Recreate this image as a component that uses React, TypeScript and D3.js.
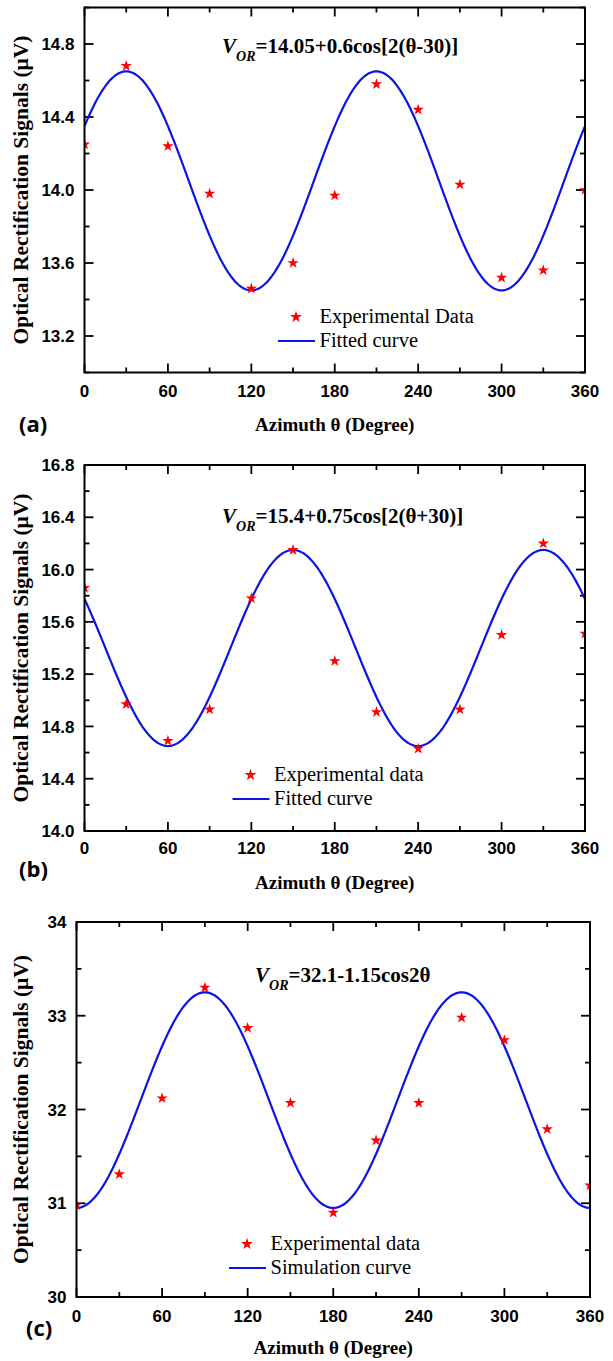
import { useRef, useEffect } from "react";
import * as d3 from "d3";

// azimuth angles where the signal was measured (degrees)
const azimuth = [0, 30, 60, 90, 120, 150, 180, 210, 240, 270, 300, 330, 360];

// measured optical rectification signals (µV), one array per panel
const signalA = [14.25, 14.68, 14.24, 13.98, 13.46, 13.6, 13.97, 14.58, 14.44, 14.03, 13.52, 13.56, 14.0];
const signalB = [15.86, 14.97, 14.69, 14.93, 15.78, 16.15, 15.3, 14.91, 14.63, 14.93, 15.5, 16.2, 15.51];
const signalC = [30.98, 31.31, 32.12, 33.3, 32.87, 32.07, 30.9, 31.67, 32.07, 32.98, 32.74, 31.79, 31.19];

// tick labels
const xTicks = [0, 60, 120, 180, 240, 300, 360];
const yTicksA = [13.2, 13.6, 14.0, 14.4, 14.8];
const yTicksB = [14.0, 14.4, 14.8, 15.2, 15.6, 16.0, 16.4, 16.8];
const yTicksC = [30, 31, 32, 33, 34];

// fit parameters printed on each panel: V = offset + amp * cos[2(θ + shift)]
const fitOffset = [14.05, 15.4, 32.1];
const fitAmp = [0.6, 0.75, -1.15];
const fitShift = [-30, 30, 0];

const formulaText = ["=14.05+0.6cos[2(θ-30)]", "=15.4+0.75cos[2(θ+30)]", "=32.1-1.15cos2θ"];
const legendPoints = ["Experimental Data", "Experimental data", "Experimental data"];
const legendCurve = ["Fitted curve", "Fitted curve", "Simulation curve"];
const panelTags = ["(a)", "(b)", "(c)"];

const SERIF = "'Liberation Serif', 'Times New Roman', serif";
const SANS = "'Liberation Sans', Arial, sans-serif";

const panels = [
  {
    values: signalA, yTicks: yTicksA, yDomain: [13.0, 15.0], yMinor: 0.2, digits: 1,
    box: { left: 84.5, right: 585, top: 7.5, bottom: 372.5 },
    formulaX: 222, formulaY: 53, legendX: 296, legendY: 317,
    xLabelY: 397, titleY: 431, tagX: 19, tagY: 432,
  },
  {
    values: signalB, yTicks: yTicksB, yDomain: [14.0, 16.8], yMinor: 0.2, digits: 1,
    box: { left: 84.5, right: 585, top: 465, bottom: 831 },
    formulaX: 222, formulaY: 523, legendX: 250.5, legendY: 775,
    xLabelY: 854, titleY: 889, tagX: 19, tagY: 877,
  },
  {
    values: signalC, yTicks: yTicksC, yDomain: [30, 34], yMinor: 0.5, digits: 0,
    box: { left: 76.5, right: 590, top: 922, bottom: 1297 },
    formulaX: 255, formulaY: 982, legendX: 247, legendY: 1244,
    xLabelY: 1322, titleY: 1354, tagX: 26, tagY: 1336,
  },
];

export default function App() {
  const svgRef = useRef<SVGSVGElement>(null);

  useEffect(() => {
    const svg = d3.select(svgRef.current);
    svg.selectAll("*").remove();

    const star = d3.symbol().type(d3.symbolStar).size(40);
    const starLegend = d3.symbol().type(d3.symbolStar).size(44);

    panels.forEach((p, i) => {
      const { left, right, top, bottom } = p.box;
      const x = d3.scaleLinear().domain([0, 360]).range([left, right]);
      const y = d3.scaleLinear().domain(p.yDomain).range([bottom, top]);
      const g = svg.append("g");

      const clipId = `clip-${i}`;
      g.append("clipPath")
        .attr("id", clipId)
        .append("rect")
        .attr("x", left)
        .attr("y", top)
        .attr("width", right - left)
        .attr("height", bottom - top);

      // minor + major ticks, pointing inward on all four sides
      const xMinor = d3.range(0, 361, 30);
      const yMinor = d3.range(p.yDomain[0], p.yDomain[1] + 1e-9, p.yMinor);
      const isMajorX = (v: number) => v % 60 === 0;
      const isMajorY = (v: number) => p.yTicks.some((t) => Math.abs(t - v) < 1e-6);

      const ticks = g.append("g").attr("stroke", "#000").attr("stroke-width", 1.8);
      xMinor.forEach((v) => {
        const len = isMajorX(v) ? 9 : 5;
        ticks.append("line").attr("x1", x(v)).attr("x2", x(v)).attr("y1", bottom).attr("y2", bottom - len);
        ticks.append("line").attr("x1", x(v)).attr("x2", x(v)).attr("y1", top).attr("y2", top + len);
      });
      yMinor.forEach((v) => {
        const len = isMajorY(v) ? 9 : 5;
        ticks.append("line").attr("x1", left).attr("x2", left + len).attr("y1", y(v)).attr("y2", y(v));
        ticks.append("line").attr("x1", right).attr("x2", right - len).attr("y1", y(v)).attr("y2", y(v));
      });

      // fitted / simulated curve
      const curve = d3.range(0, 360.5, 1).map((t) => [
        t,
        fitOffset[i] + fitAmp[i] * Math.cos((2 * (t + fitShift[i]) * Math.PI) / 180),
      ]);
      g.append("path")
        .attr("clip-path", `url(#${clipId})`)
        .attr("d", d3.line().x((d) => x(d[0])).y((d) => y(d[1]))(curve as [number, number][]))
        .attr("fill", "none")
        .attr("stroke", "#0a14e6")
        .attr("stroke-width", 2.2);

      // data stars
      g.append("g")
        .attr("clip-path", `url(#${clipId})`)
        .selectAll("path")
        .data(p.values)
        .join("path")
        .attr("transform", (d, k) => `translate(${x(azimuth[k])},${y(d)})`)
        .attr("d", star()!)
        .attr("fill", "#ff0000");

      // frame
      g.append("rect")
        .attr("x", left)
        .attr("y", top)
        .attr("width", right - left)
        .attr("height", bottom - top)
        .attr("fill", "none")
        .attr("stroke", "#000")
        .attr("stroke-width", 2);

      // tick labels
      g.selectAll("text.xl")
        .data(xTicks)
        .join("text")
        .attr("class", "xl")
        .attr("x", (d) => x(d))
        .attr("y", p.xLabelY)
        .attr("text-anchor", "middle")
        .attr("font-family", SANS)
        .attr("font-weight", "bold")
        .attr("font-size", 17)
        .text((d) => d);
      g.selectAll("text.yl")
        .data(p.yTicks)
        .join("text")
        .attr("class", "yl")
        .attr("x", left - 10)
        .attr("y", (d) => y(d))
        .attr("dy", "0.36em")
        .attr("text-anchor", "end")
        .attr("font-family", SANS)
        .attr("font-weight", "bold")
        .attr("font-size", 17)
        .text((d) => d.toFixed(p.digits));

      // axis titles
      g.append("text")
        .attr("x", (left + right) / 2)
        .attr("y", p.titleY)
        .attr("text-anchor", "middle")
        .attr("font-family", SERIF)
        .attr("font-weight", "bold")
        .attr("font-size", 19)
        .text("Azimuth θ (Degree)");
      g.append("text")
        .attr("transform", `translate(28,${(top + bottom) / 2}) rotate(-90)`)
        .attr("text-anchor", "middle")
        .attr("font-family", SERIF)
        .attr("font-weight", "bold")
        .attr("font-size", 21.5)
        .text("Optical Rectification Signals (μV)");

      // panel tag
      g.append("text")
        .attr("x", p.tagX)
        .attr("y", p.tagY)
        .attr("font-family", "'Open Sans', 'Noto Sans', sans-serif")
        .attr("font-weight", 700)
        .attr("font-size", 22)
        .text(panelTags[i]);

      // formula
      const f = g.append("text")
        .attr("x", p.formulaX)
        .attr("y", p.formulaY)
        .attr("font-family", SERIF)
        .attr("font-weight", "bold")
        .attr("font-size", 21)
        .attr("textLength", null);
      f.append("tspan").attr("font-style", "italic").text("V");
      f.append("tspan").attr("font-style", "italic").attr("font-size", 14).attr("dy", 8).text("OR");
      f.append("tspan").attr("dy", -8).text(formulaText[i]);

      // legend
      const lx = p.legendX;
      const ly = p.legendY;
      g.append("path").attr("transform", `translate(${lx},${ly})`).attr("d", starLegend()!).attr("fill", "#ff0000");
      g.append("line")
        .attr("x1", lx - 18)
        .attr("x2", lx + 19)
        .attr("y1", ly + 24)
        .attr("y2", ly + 24)
        .attr("stroke", "#0a14e6")
        .attr("stroke-width", 2.2);
      g.append("text")
        .attr("x", lx + 23.5)
        .attr("y", ly + 6)
        .attr("font-family", SERIF)
        .attr("font-size", 20.5)
        .text(legendPoints[i]);
      g.append("text")
        .attr("x", lx + 23.5)
        .attr("y", ly + 30)
        .attr("font-family", SERIF)
        .attr("font-size", 20.5)
        .text(legendCurve[i]);
    });
  }, []);

  return (
    <svg
      ref={svgRef}
      width={613}
      height={1361}
      style={{ position: "absolute", left: 0, top: 0, background: "#fff" }}
    />
  );
}
